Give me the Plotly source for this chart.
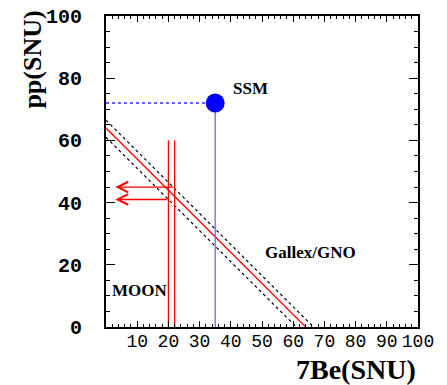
import plotly.graph_objects as go

# ---- data ----
ssm_be7 = 35.0
ssm_pp = 72.0
gallex_levels = [61.0, 64.0, 66.5]          # lower, central, upper (pp + 7Be)
gallex_styles = ["dot", "solid", "dot"]
moon_be7 = [20.0, 22.0]
moon_top = 60.0
moon_pp_limits = [41.0, 45.0]               # arrows (pp upper limits)
arrow_tip_x = 3.0
x_ticks = [10, 20, 30, 40, 50, 60, 70, 80, 90, 100]
y_ticks = [0, 20, 40, 60, 80, 100]

fig = go.Figure()

# Gallex/GNO band
for lev, sty in zip(gallex_levels, gallex_styles):
    fig.add_trace(go.Scatter(
        x=[0, lev], y=[lev, 0], mode="lines",
        line=dict(color="red" if sty == "solid" else "black",
                  width=1.3 if sty == "solid" else 1.2, dash=sty),
        showlegend=False, hoverinfo="skip"))

# MOON verticals
for xb in moon_be7:
    fig.add_trace(go.Scatter(
        x=[xb, xb], y=[0, moon_top], mode="lines",
        line=dict(color="red", width=1.3), showlegend=False, hoverinfo="skip"))

# MOON arrows (upper pp at right vertical, lower pp at left vertical)
tails = sorted(moon_be7)
for pp, tail in zip(moon_pp_limits, tails):
    fig.add_annotation(
        x=arrow_tip_x, y=pp, ax=tail, ay=pp, xref="x", yref="y",
        axref="x", ayref="y", text="", showarrow=True,
        arrowhead=5, arrowsize=1.6, arrowwidth=1.3, arrowcolor="red", standoff=0)

# SSM guide lines
fig.add_trace(go.Scatter(
    x=[0, ssm_be7], y=[ssm_pp, ssm_pp], mode="lines",
    line=dict(color="#3030ff", width=1.5, dash="dot"),
    showlegend=False, hoverinfo="skip"))
fig.add_trace(go.Scatter(
    x=[ssm_be7, ssm_be7], y=[0, ssm_pp], mode="lines",
    line=dict(color="#6868ff", width=1.3),
    showlegend=False, hoverinfo="skip"))
fig.add_trace(go.Scatter(
    x=[ssm_be7], y=[ssm_pp], mode="markers",
    marker=dict(color="#0000ff", size=19),
    showlegend=False, hoverinfo="skip"))

serif = "Liberation Serif"
fig.add_annotation(x=40, y=76.7, xref="x", yref="y", text="<b>SSM</b>",
                   showarrow=False, xanchor="left", yanchor="middle",
                   font=dict(family=serif, size=17, color="black"))
fig.add_annotation(x=50.3, y=23.8, xref="x", yref="y", text="<b>Gallex/GNO</b>",
                   showarrow=False, xanchor="left", yanchor="middle",
                   font=dict(family=serif, size=17, color="black"))
fig.add_annotation(x=1.3, y=11.6, xref="x", yref="y", text="<b>MOON</b>",
                   showarrow=False, xanchor="left", yanchor="middle",
                   font=dict(family=serif, size=17, color="black"))

# axis titles
fig.add_annotation(x=1.0, y=-0.138, xref="paper", yref="paper",
                   text="<b>7Be(SNU)</b>", showarrow=False,
                   xanchor="right", yanchor="middle",
                   font=dict(family=serif, size=28, color="black"))
fig.add_annotation(x=-0.237, y=0.86, xref="paper", yref="paper",
                   text="<b>pp(SNU)</b>", showarrow=False, textangle=-90,
                   xanchor="center", yanchor="middle",
                   font=dict(family=serif, size=26, color="black"))

fig.update_xaxes(
    range=[0, 100], showgrid=False, zeroline=False, automargin=False,
    showline=True, linecolor="black", linewidth=2, mirror="ticks",
    ticks="inside", ticklen=6, tickwidth=1.2, tickcolor="black",
    tickvals=x_ticks, ticktext=[str(v) for v in x_ticks],
    tickfont=dict(family="Liberation Mono", size=18, color="black"),
    ticklabelstandoff=-4, ticklabeloverflow="allow",
    minor=dict(dtick=2, ticks="inside", ticklen=3, tickcolor="black", tickwidth=1),
)
fig.update_yaxes(
    range=[0, 100], showgrid=False, zeroline=False, automargin=False,
    showline=True, linecolor="black", linewidth=2, mirror="ticks",
    ticks="inside", ticklen=9, tickwidth=1.2, tickcolor="black",
    tickvals=y_ticks, ticktext=["<b>%d</b>" % v for v in y_ticks],
    tickfont=dict(family="Liberation Mono", size=20, color="black"),
    ticklabelstandoff=18, ticklabeloverflow="allow",
    minor=dict(dtick=5, ticks="inside", ticklen=4, tickcolor="black", tickwidth=1),
)

fig.update_layout(
    width=447, height=385,
    margin=dict(l=106, r=29, t=16, b=58),
    paper_bgcolor="white", plot_bgcolor="white",
    showlegend=False,
)

# remove the default 8px page margin so the figure fills the window exactly
fig.write_html("out.html",
               config={"displayModeBar": False},
               post_script="document.body.style.margin='0px';"
                           "document.body.style.overflow='hidden';")
